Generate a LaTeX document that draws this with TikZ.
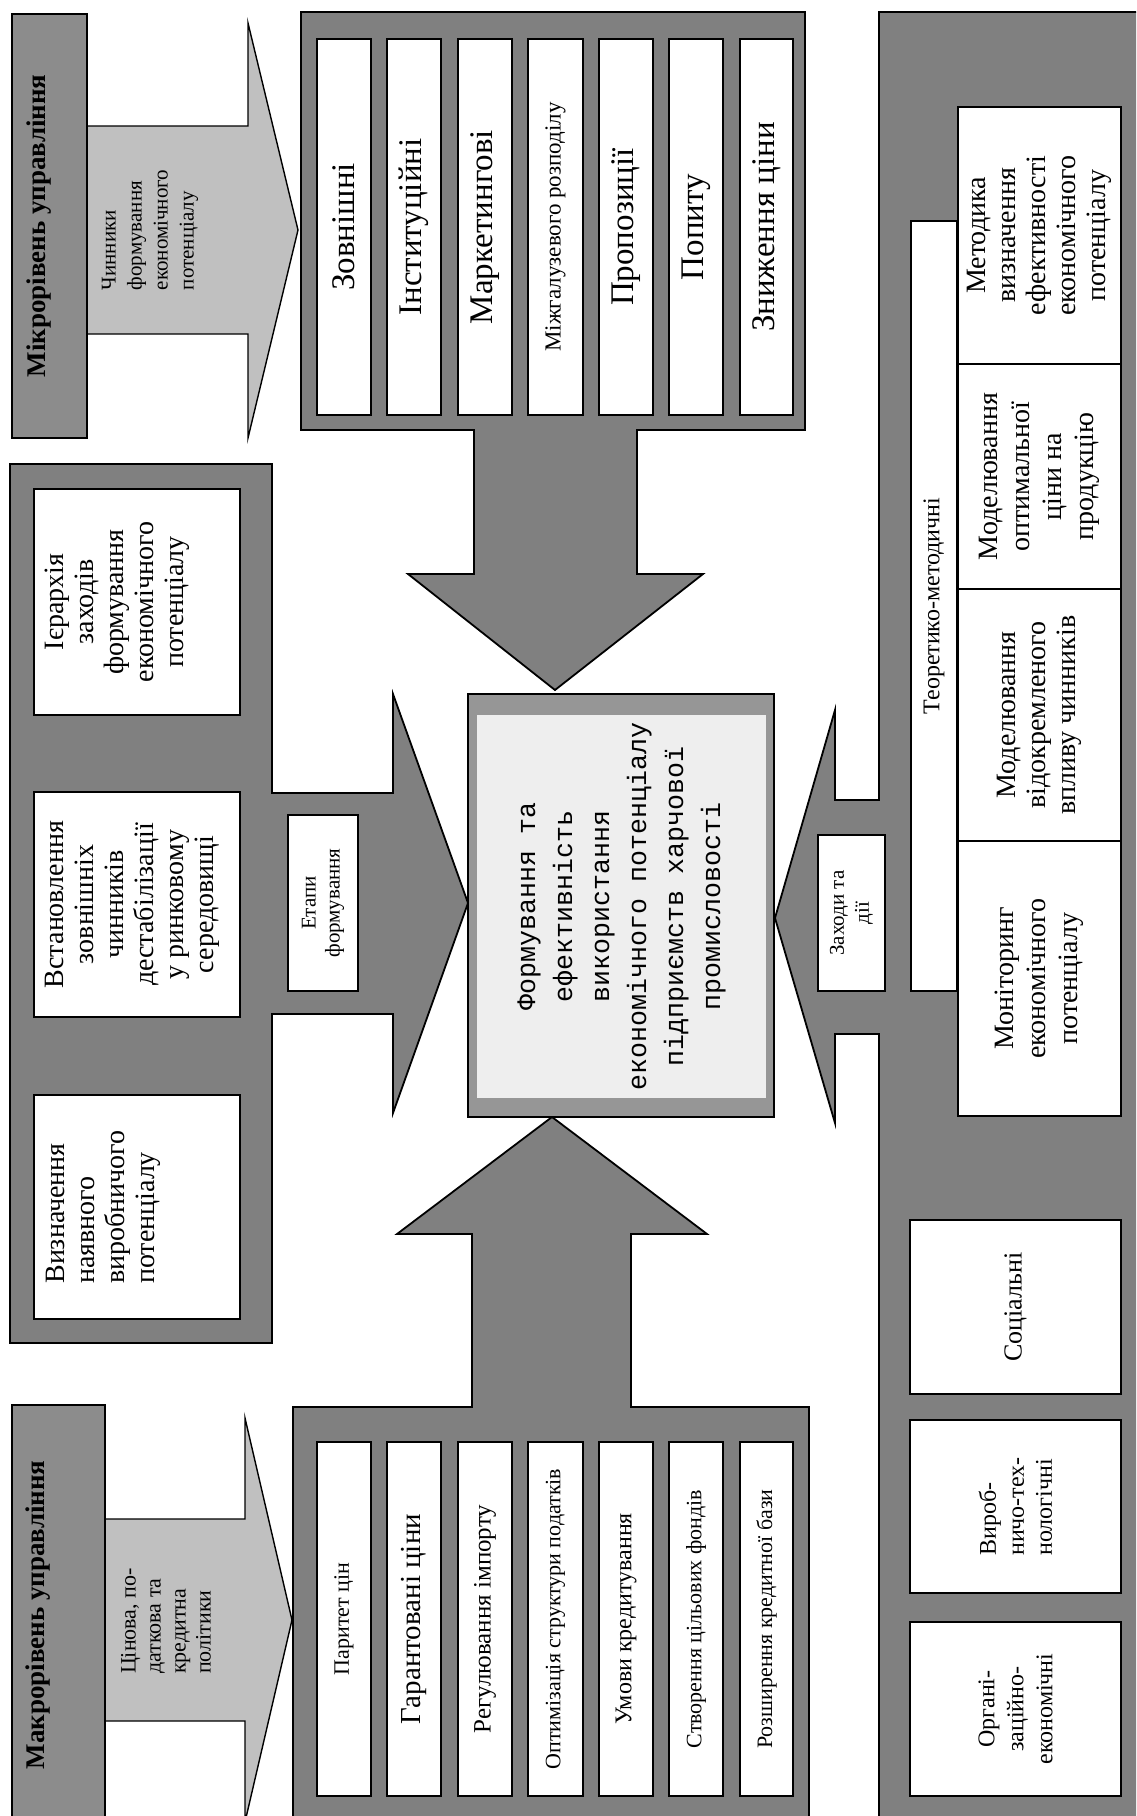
\documentclass[tikz,border=0pt]{standalone}
\usepackage{fontspec}
\setmainfont{Liberation Serif}
\newfontfamily\monofnt{Liberation Mono}
\newcommand\fs[2]{\fontsize{#1}{#2}\selectfont}
\definecolor{pgray}{HTML}{808080}
\definecolor{lgray}{HTML}{C0C0C0}
\definecolor{mgray}{HTML}{8C8C8C}
\definecolor{cgray}{HTML}{969696}
\definecolor{cin}{HTML}{EEEEEE}
\tikzset{
  panel/.style={fill=pgray, draw=black, line width=0.9pt, line join=miter},
  arr/.style={fill=lgray, draw=black, line width=0.7pt, line join=miter},
  wbox/.style={fill=white, draw=black, line width=0.9pt, inner sep=0pt},
  rbox/.style={wbox, rotate=90},
  txt/.style={rotate=90, inner sep=0pt},
  lvl/.style={fill=mgray, draw=black, line width=0.9pt, inner sep=0pt},
  bigt/.style={font=\fs{16.5}{19}},
  smallt/.style={font=\fs{11}{13}},
}
\begin{document}
\begin{tikzpicture}[x=0.5pt,y=-0.5pt]
\useasboundingbox (0,0) rectangle (1136,1816);
\clip (0,0) rectangle (1136,1816);
\fill[white] (0,0) rectangle (1136,1816);

% ---------- panels (with their block arrows) ----------
% top panel, arrow down to the core
\draw[panel] (301,12) -- (805,12) -- (805,430) -- (637,430) -- (637,574) -- (703,574)
  -- (555,690) -- (408,574) -- (474,574) -- (474,430) -- (301,430) -- cycle;
% bottom panel, arrow up to the core
\draw[panel] (293,1830) -- (293,1407) -- (472,1407) -- (472,1234) -- (397,1234)
  -- (552,1117) -- (707,1234) -- (631,1234) -- (631,1407) -- (809,1407) -- (809,1830) -- cycle;
% middle-left panel, arrow right to the core
\draw[panel] (10,464) -- (272,464) -- (272,793) -- (393,793) -- (393,694) -- (468,903)
  -- (393,1113) -- (393,1014) -- (272,1014) -- (272,1343) -- (10,1343) -- cycle;
% right panel, arrow left to the core
\draw[panel] (1150,12) -- (879,12) -- (879,800) -- (835,800) -- (835,710) -- (775,918)
  -- (835,1123) -- (835,1034) -- (879,1034) -- (879,1830) -- (1150,1830) -- cycle;

% ---------- level boxes and light arrows ----------
\draw[arr] (87,126) -- (248,126) -- (248,23) -- (298,230) -- (248,438) -- (248,334) -- (87,334) -- cycle;
\draw[arr] (105,1519) -- (245,1519) -- (245,1418) -- (292,1620) -- (245,1822) -- (245,1721) -- (105,1721) -- cycle;
\node[lvl, minimum width=37.5pt, minimum height=212pt] (micro) at (49.5,226) {};
\node[txt, font=\bfseries\fs{13.5}{16}] (microlbl) at (39,226) {Мікрорівень управління};
\node[lvl, minimum width=46.5pt, minimum height=212.5pt] (macro) at (58.5,1617.5) {};
\node[txt, font=\bfseries\fs{13.5}{16}] (macrolbl) at (38,1615) {Макрорівень управління};
\node[txt, align=left, font=\fs{10.5}{13}] (microtxt) at (150,230) {Чинники\\формування\\економічного\\потенціалу};
\node[txt, align=left, font=\fs{11}{12.5}] (macrotxt) at (166,1621) {Цінова, по-\\даткова та\\кредитна\\політики};

% ---------- top panel boxes ----------
\node[rbox, bigt, minimum width=188pt, minimum height=27pt] (f1) at (344,227) {Зовнішні};
\node[rbox, bigt, minimum width=188pt, minimum height=27pt] (f2) at (414,227) {Інституційні};
\node[rbox, bigt, minimum width=188pt, minimum height=27pt] (f3) at (485,227) {Маркетингові};
\node[rbox, minimum width=188pt, minimum height=27.5pt, font=\fs{11.5}{13}] (f4) at (555.5,227) {Міжгалузевого розподілу};
\node[rbox, bigt, minimum width=188pt, minimum height=27pt] (f5) at (626,227) {Пропозиції};
\node[rbox, bigt, minimum width=188pt, minimum height=27pt] (f6) at (696,227) {Попиту};
\node[rbox, bigt, minimum width=188pt, minimum height=26.5pt] (f7) at (766.5,227) {Зниження ціни};

% ---------- bottom panel boxes ----------
\node[rbox, smallt, minimum width=177pt, minimum height=27pt] (p1) at (344,1619) {Паритет цін};
\node[rbox, minimum width=177pt, minimum height=27pt, font=\fs{14.5}{16}] (p2) at (414,1619) {Гарантовані ціни};
\node[rbox, minimum width=177pt, minimum height=27pt, font=\fs{12.5}{14}] (p3) at (485,1619) {Регулювання імпорту};
\node[rbox, smallt, minimum width=177pt, minimum height=27.5pt] (p4) at (555.5,1619) {Оптимізація структури податків};
\node[rbox, minimum width=177pt, minimum height=27pt, font=\fs{12}{14}] (p5) at (626,1619) {Умови кредитування};
\node[rbox, smallt, minimum width=177pt, minimum height=27pt] (p6) at (696,1619) {Створення цільових фондів};
\node[rbox, smallt, minimum width=177pt, minimum height=26.5pt] (p7) at (766.5,1619) {Розширення кредитної бази};

% ---------- middle-left panel boxes ----------
\node[wbox, minimum width=103pt, minimum height=113pt] (s1) at (137,602) {};
\node[txt, anchor=north, align=center, font=\fs{14}{15}] (s1t) at ([xshift=5.5pt]s1.west) {Ієрархія\\заходів\\формування\\економічного\\потенціалу};
\node[wbox, minimum width=103pt, minimum height=112.5pt] (s2) at (137,904.5) {};
\node[txt, anchor=north, align=center, font=\fs{14}{15}] (s2t) at ([xshift=6pt]s2.west) {Встановлення\\зовнішніх\\чинників\\дестабілізації\\у ринковому\\середовищі};
\node[wbox, minimum width=103pt, minimum height=112pt] (s3) at (137,1207) {};
\node[txt, anchor=north, align=left, font=\fs{14}{15}] (s3t) at ([xshift=6.5pt]s3.west) {Визначення\\наявного\\виробничого\\потенціалу};
\node[rbox, minimum width=88pt, minimum height=35pt, align=center, font=\fs{10.5}{12}] (etapy) at (323,903) {Етапи\\формування};

% ---------- core ----------
\node[draw=black, fill=cgray, line width=0.9pt, minimum width=153pt, minimum height=211.5pt, inner sep=0pt] (cframe) at (621,905.5) {};
\node[rotate=90, fill=cin, inner sep=0pt, minimum width=191.5pt, minimum height=144.5pt, align=center, font=\monofnt\fs{13.3}{18.5}] (core) at (621.5,906.5) {Формування та\\ефективність\\використання\\економічного потенціалу\\підприємств харчової\\промисловості};

% ---------- right panel ----------
\node[rbox, minimum width=78pt, minimum height=33.5pt, align=center, font=\fs{10.5}{12.5}] (zahody) at (851.5,913) {Заходи та\\дії};
\node[rbox, minimum width=385pt, minimum height=23pt, font=\fs{12}{14}] (teor) at (934,606) {Теоретико-методичні};
\node[rbox, minimum width=128.5pt, minimum height=81.5pt, align=center, font=\fs{14}{15}] (metod) at (1039.5,235.5) {Методика\\визначення\\ефективності\\економічного\\потенціалу};
\node[rbox, minimum width=112.5pt, minimum height=81.5pt, align=center, font=\fs{14}{16}] (modopt) at (1039.5,476.5) {Моделювання\\оптимальної\\ціни на\\продукцію};
\node[rbox, minimum width=126pt, minimum height=81.5pt, align=center, font=\fs{14}{15}] (modvid) at (1039.5,715) {Моделювання\\відокремленого\\впливу чинників};
\node[rbox, minimum width=137.5pt, minimum height=81.5pt, align=center, font=\fs{14}{16}] (monit) at (1039.5,978.5) {Моніторинг\\економічного\\потенціалу};
\node[rbox, minimum width=87pt, minimum height=105.5pt, font=\fs{13}{15}] (soc) at (1015.5,1307) {Соціальні};
\node[rbox, minimum width=86.5pt, minimum height=105.5pt, align=left, font=\fs{12}{14}] (vyrob) at (1015.5,1506.5) {Вироб-\\ничо-тех-\\нологічні};
\node[rbox, minimum width=87pt, minimum height=105.5pt, align=center, font=\fs{12}{14.5}] (org) at (1015.5,1709) {Органі-\\заційно-\\економічні};
\end{tikzpicture}
\end{document}
